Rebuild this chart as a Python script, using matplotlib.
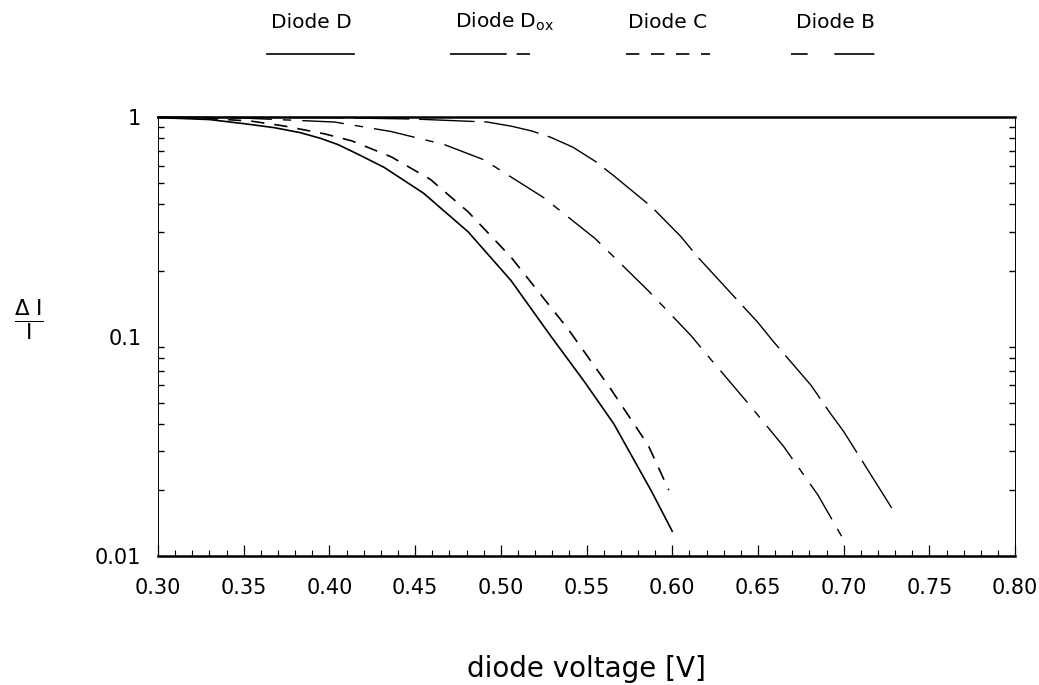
import matplotlib
matplotlib.use("Agg")
import matplotlib.pyplot as plt
from matplotlib.lines import Line2D
from matplotlib.ticker import FixedLocator, NullFormatter, LogLocator

plt.rcParams['font.family'] = ['DejaVu Sans']

# diode voltage [V] vs delta I / I
x_d = [0.30, 0.33, 0.352, 0.368, 0.383, 0.395, 0.405, 0.418, 0.432, 0.455, 0.481, 0.506, 0.529, 0.549, 0.566, 0.588, 0.600]
y_d = [0.995, 0.975, 0.93, 0.895, 0.85, 0.80, 0.75, 0.67, 0.59, 0.45, 0.30, 0.18, 0.101, 0.062, 0.040, 0.0197, 0.013]

x_c = [0.30, 0.33, 0.354, 0.374, 0.397, 0.413, 0.436, 0.459, 0.481, 0.506, 0.539, 0.564, 0.586, 0.598]
y_c = [0.998, 0.985, 0.96, 0.91, 0.84, 0.78, 0.66, 0.52, 0.37, 0.23, 0.109, 0.058, 0.032, 0.020]

x_dox = [0.30, 0.35, 0.403, 0.436, 0.467, 0.490, 0.525, 0.555, 0.586, 0.611, 0.623, 0.644, 0.665, 0.685, 0.701]
y_dox = [1.0, 0.99, 0.95, 0.86, 0.75, 0.64, 0.43, 0.28, 0.162, 0.101, 0.078, 0.050, 0.0316, 0.019, 0.0115]

x_b = [0.30, 0.40, 0.45, 0.492, 0.506, 0.518, 0.529, 0.542, 0.555, 0.566, 0.588, 0.605, 0.615, 0.650, 0.659, 0.681, 0.692, 0.700, 0.728]
y_b = [1.0, 0.995, 0.98, 0.95, 0.91, 0.865, 0.81, 0.73, 0.63, 0.54, 0.39, 0.286, 0.23, 0.116, 0.095, 0.060, 0.045, 0.037, 0.0166]

xticks = [0.30, 0.35, 0.40, 0.45, 0.50, 0.55, 0.60, 0.65, 0.70, 0.75, 0.80]
yticks = [0.01, 0.1, 1]
ytick_labels = ['0.01', '0.1', '1']

# line styles (dash patterns, scaled by line width)
ls_d = '-'
ls_dox = (0, (30, 8, 6, 8))
ls_c = (0, (8, 6))
ls_b = (0, (40, 7))

fig = plt.figure(figsize=(10.39, 6.85), dpi=100)
ax = fig.add_axes([0.152, 0.188, 0.825, 0.641])

ax.plot(x_d, y_d, color='black', lw=1.2, linestyle=ls_d, clip_on=False)
ax.plot(x_c, y_c, color='black', lw=1.2, linestyle=ls_c, clip_on=False)
ax.plot(x_dox, y_dox, color='black', lw=1.0, linestyle=ls_dox, clip_on=False)
ax.plot(x_b, y_b, color='black', lw=1.0, linestyle=ls_b, clip_on=False)

ax.set_yscale('log')
ax.set_xlim(0.30, 0.80)
ax.set_ylim(0.01, 1)

ax.set_xticks(xticks)
ax.set_xticklabels(['%.2f' % v for v in xticks])
ax.xaxis.set_minor_locator(FixedLocator([round(0.30 + 0.01 * i, 2) for i in range(51)]))
ax.set_yticks(yticks)
ax.set_yticklabels(ytick_labels)
ax.yaxis.set_minor_locator(LogLocator(base=10, subs=range(2, 10)))
ax.yaxis.set_minor_formatter(NullFormatter())

ax.tick_params(axis='x', which='major', direction='in', length=8, width=0.9,
               top=False, labelsize=15, pad=16)
ax.tick_params(axis='x', which='minor', direction='in', length=4, width=0.8, top=False)
ax.tick_params(axis='y', which='major', direction='in', length=0, right=True,
               labelsize=15, pad=12)
ax.tick_params(axis='y', which='minor', direction='in', length=4, width=1.0, right=True)

for s in ['top', 'bottom']:
    ax.spines[s].set_linewidth(1.8)
for s in ['left', 'right']:
    ax.spines[s].set_linewidth(0.7)

ax.set_xlabel('diode voltage [V]', fontsize=20)
ax.xaxis.set_label_coords(0.5, -0.225)

# y label as a fraction
fig.text(0.028, 0.532, r'$\frac{\Delta\ \mathsf{I}}{\mathsf{I}}$', fontsize=22,
         ha='center', va='center')

# legend drawn above the plot: label over a line sample
legend_items = [('Diode D', 311, ls_d, 267, 354),
                ('Diode D$_{\\rm ox}$', 505, (0, (34, 6, 8, 20)), 450, 532),
                ('Diode C', 668, (0, (8, 7)), 626, 710),
                ('Diode B', 835, (0, (10, 16, 24, 6)), 791, 878)]
W, H = 1039, 685
for name, xc, ls, x0, x1 in legend_items:
    fig.text(xc / W, 1 - 22 / H, name, fontsize=14.5, ha='center', va='center')
    fig.add_artist(Line2D([x0 / W, x1 / W], [1 - 54 / H, 1 - 54 / H],
                          transform=fig.transFigure, color='black', lw=1.2, linestyle=ls))

fig.savefig('out.png', dpi=100)
